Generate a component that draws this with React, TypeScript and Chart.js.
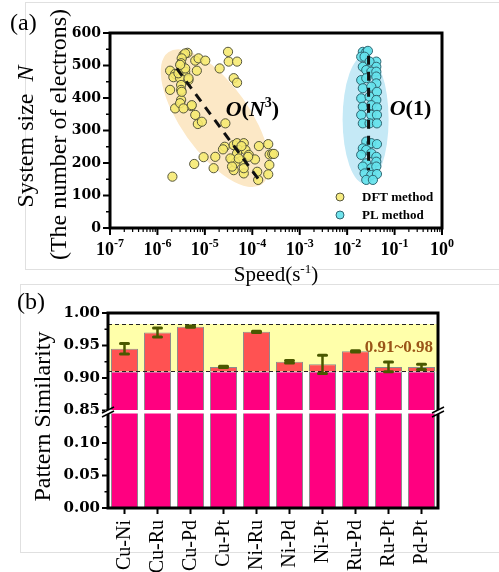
import React, { useEffect, useRef } from 'react';
import { Chart, registerables } from 'chart.js';

Chart.register(...registerables);

const SERIF = '"Liberation Serif", "Times New Roman", Times, serif';
const WIDE_SERIF = '"DejaVu Serif", "Liberation Serif", serif';
Chart.defaults.font.family = SERIF;

// ---------------- Panel (a) data ----------------
const dftSpeed = [
  4.3e-6, 3.54e-6, 3.85e-6, 3.25e-6, 6.27e-6, 7.36e-6, 1.02e-5, 3.16e-6, 1.85e-6, 2.36e-6,
  2.17e-6, 3.85e-6, 3.01e-6, 6.78e-6, 4.52e-6, 1.85e-6, 3.16e-6, 3.16e-6, 3.16e-6, 2.36e-6,
  5.15e-6, 6.27e-6, 7.11e-6, 8.65e-6, 2.77e-6, 3.85e-6, 3.01e-6, 4.52e-6, 3.25e-6, 3.01e-6,
  2.05e-5, 3.08e-5, 3.18e-5, 4.78e-5, 4.06e-5, 4.78e-5, 2.71e-5, 2.62e-5, 2.41e-5, 5.19e-5,
  4.06e-5, 4.78e-5, 6.62e-5, 5.19e-5, 7.19e-5, 4.78e-5, 5.93e-5, 8.45e-5, 1.38e-4, 2.17e-4,
  2.32e-4, 2.64e-4, 2.87e-4, 2.29e-4, 2.17e-4, 1.33e-4, 1.14e-4, 8.18e-5, 5.93e-5, 6.62e-5,
  4.06e-5, 3.74e-5, 4.42e-5, 3.46e-5, 1.53e-5, 1.66e-5, 9.4e-6, 5.97e-6, 2.07e-6, 6.62e-5,
  1.27e-4, 3.74e-5, 5.19e-5, 5.31e-6, 3.54e-6,
];
const dftSize = [
  539, 532, 537, 522, 515, 522, 515, 507, 484, 474,
  464, 481, 461, 484, 455, 425, 440, 425, 394, 368,
  375, 348, 320, 327, 476, 491, 502, 461, 419, 384,
  491, 542, 512, 512, 461, 447, 322, 250, 242, 250,
  255, 261, 261, 240, 240, 230, 252, 225, 252, 258,
  226, 228, 228, 194, 165, 148, 211, 219, 207, 168,
  178, 209, 201, 214, 184, 219, 218, 197, 158, 184,
  173, 189, 214, 378, 368,
];
const plSpeed = [
  0.0214, 0.0253, 0.0274, 0.0198, 0.0233, 0.0412, 0.0297, 0.0412, 0.0214, 0.0253,
  0.0323, 0.0412, 0.0198, 0.0253, 0.0412, 0.0412, 0.0214, 0.0323, 0.0425, 0.0198,
  0.0297, 0.0412, 0.0214, 0.0323, 0.0425, 0.0198, 0.0323, 0.0425, 0.0214, 0.0297,
  0.0425, 0.0253, 0.0323, 0.0425, 0.0214, 0.0253, 0.0198, 0.0323, 0.0412, 0.0253,
  0.0412, 0.0214, 0.0323, 0.0412, 0.0233, 0.0323, 0.0425, 0.0253, 0.0349,
];
const plSize = [
  542, 542, 545, 527, 527, 512, 512, 496, 496, 486,
  481, 481, 455, 461, 466, 445, 430, 435, 419, 399,
  404, 394, 373, 378, 371, 348, 348, 348, 322, 322,
  322, 266, 261, 258, 245, 240, 225, 230, 219, 199,
  204, 189, 184, 189, 168, 163, 166, 148, 148,
];
const speedDecades = [-7, -6, -5, -4, -3, -2, -1, 0];
const sizeTicks = [0, 100, 200, 300, 400, 500, 600];

// ---------------- Panel (b) data ----------------
const pairs = ['Cu-Ni', 'Cu-Ru', 'Cu-Pd', 'Cu-Pt', 'Ni-Ru', 'Ni-Pd', 'Ni-Pt', 'Ru-Pd', 'Ru-Pt', 'Pd-Pt'];
const similarity = [0.945, 0.970, 0.979, 0.917, 0.971, 0.925, 0.921, 0.941, 0.917, 0.917];
const similarityErr = [0.008, 0.007, 0.001, 0.001, 0.001, 0.002, 0.014, 0.001, 0.0075, 0.004];
const bandRange = [0.91, 0.983];
const axisBreak = [0.15, 0.85];
const simAxisMax = 1.0;

const GAP = axisBreak[1] - axisBreak[0];
const toAxis = (v: number) => (v <= axisBreak[0] ? v : v - GAP);
const fromAxis = (a: number) => (a < axisBreak[0] - 1e-9 ? a : a + GAP);

// ---------------- helpers ----------------
type Run = { t: string; f: string; dy?: number };
function runsWidth(ctx: CanvasRenderingContext2D, runs: Run[]) {
  let w = 0;
  for (const r of runs) {
    ctx.font = r.f;
    w += ctx.measureText(r.t).width;
  }
  return w;
}
function drawRuns(ctx: CanvasRenderingContext2D, runs: Run[], x: number, y: number, align: 'left' | 'center' | 'right') {
  const w = runsWidth(ctx, runs);
  let cx = align === 'center' ? x - w / 2 : align === 'right' ? x - w : x;
  ctx.textAlign = 'left';
  ctx.textBaseline = 'alphabetic';
  for (const r of runs) {
    ctx.font = r.f;
    ctx.fillText(r.t, cx, y + (r.dy || 0));
    cx += ctx.measureText(r.t).width;
  }
}
function line(ctx: CanvasRenderingContext2D, x1: number, y1: number, x2: number, y2: number) {
  ctx.beginPath();
  ctx.moveTo(x1, y1);
  ctx.lineTo(x2, y2);
  ctx.stroke();
}
function ellipseBetween(ctx: CanvasRenderingContext2D, x1: number, y1: number, x2: number, y2: number, half: number, color: string) {
  const cx = (x1 + x2) / 2;
  const cy = (y1 + y2) / 2;
  const a = Math.hypot(x2 - x1, y2 - y1) / 2;
  const ang = Math.atan2(y2 - y1, x2 - x1);
  ctx.save();
  ctx.fillStyle = color;
  ctx.beginPath();
  ctx.ellipse(cx, cy, a, half, ang, 0, Math.PI * 2);
  ctx.fill();
  ctx.restore();
}

const dftEllipse = { from: [1.7e-6, 541], to: [1.6e-4, 135], half: 34, color: '#fce8c6' };
const plEllipse = { from: [0.0245, 533], to: [0.0245, 135], half: 23, color: '#c5e9f6' };
const dftTrend = { from: [2.55e-6, 491], to: [1.38e-4, 148] };
const plTrend = { from: [0.0283, 530], to: [0.0283, 178] };

const panelAPlugin = {
  id: 'panelA',
  beforeDatasetsDraw(chart: any) {
    const { ctx, scales } = chart;
    const x = scales.x;
    const y = scales.y;
    for (const e of [dftEllipse, plEllipse]) {
      ellipseBetween(
        ctx,
        x.getPixelForValue(e.from[0]), y.getPixelForValue(e.from[1]),
        x.getPixelForValue(e.to[0]), y.getPixelForValue(e.to[1]),
        e.half, e.color,
      );
    }
  },
  afterDatasetsDraw(chart: any) {
    const { ctx, scales, chartArea } = chart;
    const x = scales.x;
    const y = scales.y;
    ctx.save();
    ctx.strokeStyle = '#111';
    ctx.lineWidth = 3;
    ctx.setLineDash([9, 7]);
    for (const t of [dftTrend, plTrend]) {
      line(ctx, x.getPixelForValue(t.from[0]), y.getPixelForValue(t.from[1]), x.getPixelForValue(t.to[0]), y.getPixelForValue(t.to[1]));
    }
    ctx.setLineDash([]);
    ctx.fillStyle = '#000';
    // annotations
    const bi = `italic bold 22px ${SERIF}`;
    const b = `bold 22px ${SERIF}`;
    drawRuns(ctx, [
      { t: 'O', f: bi }, { t: '(', f: b }, { t: 'N', f: bi }, { t: '3', f: `bold 14px ${SERIF}`, dy: -9 }, { t: ')', f: b },
    ], x.getPixelForValue(2.75e-5), y.getPixelForValue(345), 'left');
    drawRuns(ctx, [{ t: 'O', f: bi }, { t: '(1)', f: b }], x.getPixelForValue(0.079), y.getPixelForValue(348), 'left');
    // legend
    const ds = chart.data.datasets;
    const lx = chartArea.left + 230;
    const ly = [chartArea.top + 164, chartArea.top + 182];
    ds.forEach((d: any, i: number) => {
      ctx.beginPath();
      ctx.arc(lx, ly[i], 4, 0, Math.PI * 2);
      ctx.fillStyle = d.backgroundColor;
      ctx.fill();
      ctx.lineWidth = 1;
      ctx.strokeStyle = d.borderColor;
      ctx.stroke();
      ctx.fillStyle = '#000';
      ctx.font = `bold 13px ${SERIF}`;
      ctx.textAlign = 'left';
      ctx.textBaseline = 'middle';
      ctx.fillText(d.label, lx + 22, ly[i] + 1);
    });
    ctx.restore();
  },
  afterDraw(chart: any) {
    const { ctx, scales, chartArea } = chart;
    const { left, right, top, bottom } = chartArea;
    const x = scales.x;
    const y = scales.y;
    ctx.save();
    ctx.strokeStyle = '#000';
    // ticks
    ctx.lineWidth = 2;
    for (let i = 0; i < sizeTicks.length; i++) {
      const py = y.getPixelForValue(sizeTicks[i]);
      line(ctx, left - 7, py, left, py);
      if (i < sizeTicks.length - 1) {
        const pm = y.getPixelForValue((sizeTicks[i] + sizeTicks[i + 1]) / 2);
        ctx.lineWidth = 1.5;
        line(ctx, left - 4, pm, left, pm);
        ctx.lineWidth = 2;
      }
    }
    for (const k of speedDecades) {
      const px = x.getPixelForValue(Math.pow(10, k));
      ctx.lineWidth = 2;
      line(ctx, px, bottom, px, bottom + 7);
      if (k < 0) {
        ctx.lineWidth = 1.2;
        for (let m = 2; m <= 9; m++) {
          const pm = x.getPixelForValue(m * Math.pow(10, k));
          line(ctx, pm, bottom, pm, bottom + 4);
        }
      }
    }
    // frame
    ctx.lineWidth = 3;
    ctx.strokeRect(left, top, right - left, bottom - top);
    // x tick labels
    ctx.fillStyle = '#000';
    for (const k of speedDecades) {
      const px = x.getPixelForValue(Math.pow(10, k));
      drawRuns(ctx, [
        { t: '10', f: `bold 18px ${SERIF}` },
        { t: String(k), f: `bold 12px ${SERIF}`, dy: -8 },
      ], px, bottom + 27, 'center');
    }
    // x title
    const cx = (left + right) / 2;
    drawRuns(ctx, [
      { t: 'Speed(s', f: `21px ${SERIF}` },
      { t: '-1', f: `13px ${SERIF}`, dy: -8 },
      { t: ')', f: `21px ${SERIF}` },
    ], cx, bottom + 53, 'center');
    // y title (two lines)
    const cy = (top + bottom) / 2;
    ctx.save();
    ctx.translate(33, cy + 6);
    ctx.rotate(-Math.PI / 2);
    drawRuns(ctx, [{ t: 'System size  ', f: `24px ${SERIF}` }, { t: 'N', f: `italic 24px ${SERIF}` }], 0, 0, 'center');
    ctx.restore();
    ctx.save();
    ctx.translate(66, cy + 4);
    ctx.rotate(-Math.PI / 2);
    drawRuns(ctx, [{ t: '(The number of electrons)', f: `24px ${SERIF}` }], 0, 0, 'center');
    ctx.restore();
    // panel label
    drawRuns(ctx, [{ t: '(a)', f: `24px ${SERIF}` }], 10, 30, 'left');
    ctx.restore();
  },
};

const panelBPlugin = {
  id: 'panelB',
  beforeDatasetsDraw(chart: any) {
    const { ctx, scales, chartArea } = chart;
    const y = scales.y;
    const y1 = y.getPixelForValue(toAxis(bandRange[1]));
    const y0 = y.getPixelForValue(toAxis(bandRange[0]));
    ctx.save();
    ctx.fillStyle = '#ffffaa';
    ctx.fillRect(chartArea.left, y1, chartArea.right - chartArea.left, y0 - y1);
    ctx.restore();
  },
  afterDatasetsDraw(chart: any) {
    const { ctx, scales, chartArea } = chart;
    const { left, right } = chartArea;
    const x = scales.x;
    const y = scales.y;
    ctx.save();
    // axis break gap through the bars
    const yb = y.getPixelForValue(toAxis(axisBreak[1]));
    ctx.fillStyle = '#fff';
    ctx.fillRect(left, yb - 0.5, right - left, 3.5);
    // band dashed edges
    ctx.strokeStyle = '#222';
    ctx.lineWidth = 1;
    ctx.setLineDash([4, 3]);
    for (const v of bandRange) {
      const py = Math.round(y.getPixelForValue(toAxis(v))) + 0.5;
      line(ctx, left, py, right, py);
    }
    ctx.setLineDash([]);
    // error bars
    ctx.strokeStyle = '#4a5800';
    similarity.forEach((v, i) => {
      const px = x.getPixelForValue(i);
      const yt = y.getPixelForValue(toAxis(v + similarityErr[i]));
      const ybt = y.getPixelForValue(toAxis(v - similarityErr[i]));
      ctx.lineWidth = 2.5;
      ctx.lineCap = 'butt';
      line(ctx, px, yt, px, ybt);
      ctx.lineWidth = 3;
      ctx.lineCap = 'round';
      line(ctx, px - 4, yt, px + 4, yt);
      line(ctx, px - 4, ybt, px + 4, ybt);
    });
    // band label
    ctx.fillStyle = '#9a5518';
    drawRuns(ctx, [{ t: `${bandRange[0].toFixed(2)}~${(Math.floor(bandRange[1] * 100) / 100).toFixed(2)}`, f: `bold 17px ${SERIF}` }],
      right - 5, y.getPixelForValue(toAxis(0.94)), 'right');
    ctx.restore();
  },
  afterDraw(chart: any) {
    const { ctx, scales, chartArea } = chart;
    const { left, right, top, bottom } = chartArea;
    const x = scales.x;
    const y = scales.y;
    ctx.save();
    ctx.strokeStyle = '#000';
    const maxA = toAxis(simAxisMax);
    for (let k = 0; k <= Math.round(maxA / 0.025); k++) {
      const a = k * 0.025;
      const py = y.getPixelForValue(a);
      if (k % 2 === 0) {
        ctx.lineWidth = 2;
        line(ctx, left - 6, py, left, py);
      } else {
        ctx.lineWidth = 1.5;
        line(ctx, left - 3.5, py, left, py);
      }
    }
    ctx.lineWidth = 2;
    pairs.forEach((_, i) => {
      const px = x.getPixelForValue(i);
      line(ctx, px, bottom, px, bottom + 6);
    });
    ctx.lineWidth = 3;
    ctx.strokeRect(left, top, right - left, bottom - top);
    // axis break marks
    const yb = y.getPixelForValue(toAxis(axisBreak[1])) + 1.5;
    for (const ax of [left, right]) {
      ctx.fillStyle = '#fff';
      ctx.fillRect(ax - 3, yb - 2, 6, 4);
      ctx.lineWidth = 1.5;
      ctx.strokeStyle = '#000';
      line(ctx, ax - 6, yb + 1, ax + 6, yb - 5);
      line(ctx, ax - 6, yb + 5, ax + 6, yb - 1);
    }
    // y title
    ctx.fillStyle = '#000';
    ctx.save();
    ctx.translate(50, (top + bottom) / 2 + 6);
    ctx.rotate(-Math.PI / 2);
    drawRuns(ctx, [{ t: 'Pattern Similarity', f: `24px ${SERIF}` }], 0, 0, 'center');
    ctx.restore();
    drawRuns(ctx, [{ t: '(b)', f: `24px ${SERIF}` }], 17, 23, 'left');
    ctx.restore();
  },
};

function topConfig(): any {
  return {
    type: 'scatter',
    data: {
      datasets: [
        {
          label: 'DFT method',
          data: dftSpeed.map((s, i) => ({ x: s, y: dftSize[i] })),
          backgroundColor: 'rgba(246,233,112,0.88)',
          borderColor: '#56563c',
          borderWidth: 1,
          pointRadius: 4.6,
        },
        {
          label: 'PL method',
          data: plSpeed.map((s, i) => ({ x: s, y: plSize[i] })),
          backgroundColor: 'rgba(100,226,236,0.92)',
          borderColor: '#2f6672',
          borderWidth: 1,
          pointRadius: 4.6,
        },
      ],
    },
    options: {
      responsive: false,
      animation: false,
      events: [],
      layout: { padding: { left: 0, right: 57, top: 33, bottom: 0 } },
      plugins: { legend: { display: false }, tooltip: { enabled: false } },
      scales: {
        x: {
          type: 'logarithmic',
          min: Math.pow(10, speedDecades[0]),
          max: Math.pow(10, speedDecades[speedDecades.length - 1]),
          grid: { display: false, drawTicks: false },
          border: { display: false },
          ticks: { display: false },
          afterFit: (s: any) => { s.height = 58; },
        },
        y: {
          type: 'linear',
          min: sizeTicks[0],
          max: sizeTicks[sizeTicks.length - 1],
          grid: { display: false, drawTicks: false },
          border: { display: false },
          ticks: { stepSize: 100, padding: 9, color: '#000', font: { family: WIDE_SERIF, size: 14, weight: 'bold' } },
          afterFit: (s: any) => { s.width = 110; },
        },
      },
    },
    plugins: [panelAPlugin],
  };
}

function bottomConfig(): any {
  const base = toAxis(bandRange[0]);
  return {
    type: 'bar',
    data: {
      labels: pairs,
      datasets: [
        {
          label: 'base',
          data: pairs.map(() => base),
          backgroundColor: '#ff0080',
          borderColor: '#8c8c8c',
          borderWidth: 1,
          barPercentage: 0.82,
          categoryPercentage: 1,
        },
        {
          label: 'similarity',
          data: similarity.map((v) => toAxis(v) - base),
          backgroundColor: '#ff5252',
          borderColor: '#8c8c8c',
          borderWidth: 1,
          barPercentage: 0.82,
          categoryPercentage: 1,
        },
      ],
    },
    options: {
      responsive: false,
      animation: false,
      events: [],
      layout: { padding: { left: 0, right: 61, top: 27, bottom: 0 } },
      plugins: { legend: { display: false }, tooltip: { enabled: false } },
      scales: {
        x: {
          stacked: true,
          grid: { display: false, drawTicks: false },
          border: { display: false },
          ticks: { autoSkip: false, minRotation: 90, maxRotation: 90, padding: 12, color: '#000', font: { family: SERIF, size: 20 } },
          afterFit: (s: any) => { s.height = 64; },
        },
        y: {
          stacked: true,
          min: 0,
          max: toAxis(simAxisMax),
          grid: { display: false, drawTicks: false },
          border: { display: false },
          ticks: {
            stepSize: 0.05,
            padding: 8,
            color: '#000',
            font: { family: WIDE_SERIF, size: 15, weight: 'bold' },
            callback: (v: number) => fromAxis(v).toFixed(2),
          },
          afterFit: (s: any) => { s.width = 108; },
        },
      },
    },
    plugins: [panelBPlugin],
  };
}

export default function App() {
  const topRef = useRef<HTMLCanvasElement>(null);
  const botRef = useRef<HTMLCanvasElement>(null);
  useEffect(() => {
    const c1 = new Chart(topRef.current as HTMLCanvasElement, topConfig());
    const c2 = new Chart(botRef.current as HTMLCanvasElement, bottomConfig());
    return () => {
      c1.destroy();
      c2.destroy();
    };
  }, []);
  const frame = '1px solid #e0e0e0';
  return (
    <div style={{ position: 'absolute', left: 0, top: 0, width: 499, height: 572, overflow: 'hidden', background: '#fff' }}>
      <div style={{ position: 'absolute', left: 25, top: 2, width: 490, height: 266, borderTop: frame, borderLeft: frame, borderBottom: frame }} />
      <div style={{ position: 'absolute', left: 20, top: 284, width: 490, height: 267, borderTop: frame, borderLeft: frame, borderBottom: frame }} />
      <canvas ref={topRef} width={499} height={286} style={{ position: 'absolute', left: 0, top: 0, width: 499, height: 286 }} />
      <canvas ref={botRef} width={499} height={286} style={{ position: 'absolute', left: 0, top: 286, width: 499, height: 286 }} />
    </div>
  );
}
